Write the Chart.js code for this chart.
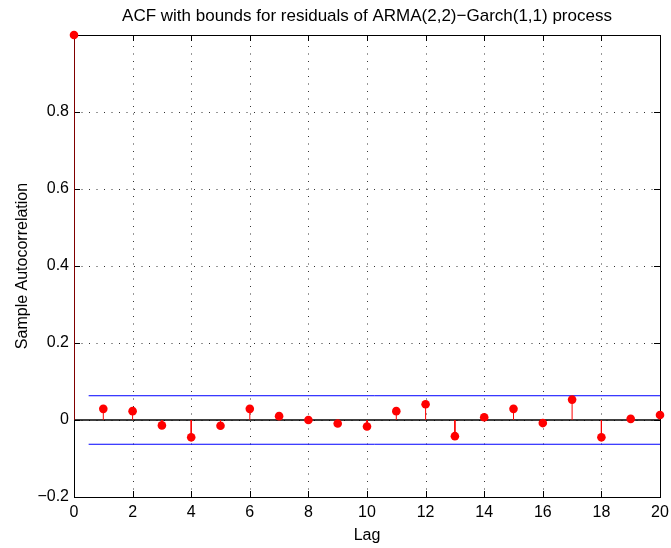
<!DOCTYPE html>
<html><head><meta charset="utf-8">
<script src="https://cdn.jsdelivr.net/npm/chart.js@4/dist/chart.umd.min.js"></script>
<style>html,body{margin:0;padding:0;background:#fff}#wrap{width:671px;height:548px}</style>
</head><body><div id="wrap"><canvas id="c" width="671" height="548"></canvas></div>
<script>
// ---- data ----
const lags = [0,1,2,3,4,5,6,7,8,9,10,11,12,13,14,15,16,17,18,19,20];
const acfValues = [1, 0.029, 0.023, -0.014, -0.045, -0.015, 0.029, 0.010, 0.000, -0.009, -0.017,
                   0.023, 0.041, -0.042, 0.007, 0.029, -0.008, 0.053, -0.045, 0.003, 0.013];
const boundValue = 0.063;
const boundLags = [0.5, 20];
const xTicks = [0,2,4,6,8,10,12,14,16,18,20];
const xTickLabels = ['0','2','4','6','8','10','12','14','16','18','20'];
const yTicks = [-0.2,0,0.2,0.4,0.6,0.8,1];
const yTickLabels = ['\u22120.2','0','0.2','0.4','0.6','0.8',''];
const titleText = 'ACF with bounds for residuals of ARMA(2,2)\u2212Garch(1,1) process';
const xLabel = 'Lag';
const yLabel = 'Sample Autocorrelation';

const FONT = 'Liberation Sans';

const stemData = [];
lags.forEach((l,i)=>{ stemData.push({x:l,y:0},{x:l,y:acfValues[i]},{x:l,y:null}); });
const markerData = lags.map((l,i)=>({x:l,y:acfValues[i]}));
const zeroData = [{x:xTicks[0],y:0},{x:xTicks[xTicks.length-1],y:0}];
const upperData = boundLags.map(l=>({x:l,y:boundValue}));
const lowerData = boundLags.map(l=>({x:l,y:-boundValue}));

const matlabAxes = {
  id:'matlabAxes',
  beforeDatasetsDraw(chart){
    const {ctx, chartArea:a, scales:{x,y}} = chart;
    ctx.save();
    ctx.lineWidth = 1;
    ctx.strokeStyle = '#333';
    ctx.setLineDash([1,6.5]);
    xTicks.slice(1,-1).forEach(v=>{
      const px = Math.round(x.getPixelForValue(v))+0.5;
      ctx.beginPath(); ctx.moveTo(px,a.bottom); ctx.lineTo(px,a.top); ctx.stroke();
    });
    yTicks.slice(1,-1).forEach(v=>{
      const py = Math.round(y.getPixelForValue(v))+0.5;
      ctx.beginPath(); ctx.moveTo(a.left,py); ctx.lineTo(a.right,py); ctx.stroke();
    });
    ctx.setLineDash([]);
    ctx.strokeStyle = '#000';
    const tl = 6;
    xTicks.forEach(v=>{
      const px = Math.round(x.getPixelForValue(v))+0.5;
      ctx.beginPath(); ctx.moveTo(px,a.bottom); ctx.lineTo(px,a.bottom-tl);
      ctx.moveTo(px,a.top); ctx.lineTo(px,a.top+tl); ctx.stroke();
    });
    yTicks.forEach(v=>{
      const py = Math.round(y.getPixelForValue(v))+0.5;
      ctx.beginPath(); ctx.moveTo(a.left,py); ctx.lineTo(a.left+tl,py);
      ctx.moveTo(a.right,py); ctx.lineTo(a.right-tl,py); ctx.stroke();
    });
    ctx.strokeRect(Math.round(a.left)+0.5, Math.round(a.top)+0.5, Math.round(a.right-a.left), Math.round(a.bottom-a.top));
    ctx.restore();
  },
  afterDraw(chart){
    const {ctx, chartArea:a} = chart;
    ctx.save();
    ctx.fillStyle = '#000';
    ctx.font = '17px "' + FONT + '"';
    ctx.textAlign = 'center';
    ctx.textBaseline = 'middle';
    ctx.fillText(titleText, (a.left+a.right)/2, 16);
    ctx.restore();
  }
};

new Chart(document.getElementById('c'), {
  type:'scatter',
  data:{datasets:[
    {label:'acf', data:markerData, showLine:false, pointRadius:4.3, pointHoverRadius:4.3,
     pointBackgroundColor:'#ff0000', pointBorderColor:'#ff0000', pointBorderWidth:0, clip:false},
    {label:'stems', data:stemData, showLine:true, spanGaps:false, pointRadius:0, borderColor:'#ff0000', borderWidth:1},
    {label:'upper', data:upperData, showLine:true, pointRadius:0, borderColor:'#0000ff', borderWidth:1},
    {label:'lower', data:lowerData, showLine:true, pointRadius:0, borderColor:'#0000ff', borderWidth:1},
    {label:'zero', data:zeroData, showLine:true, pointRadius:0, borderColor:'#000000', borderWidth:1.7}
  ]},
  options:{
    responsive:false, animation:false, devicePixelRatio:1,
    layout:{padding:{top:35,right:11,left:0,bottom:0}},
    plugins:{legend:{display:false}, tooltip:{enabled:false}, title:{display:false}},
    events:[],
    scales:{
      x:{type:'linear', min:0, max:20,
        afterBuildTicks:s=>{s.ticks = xTicks.map(v=>({value:v}));},
        afterFit:s=>{s.height = 51;},
        ticks:{autoSkip:false, maxRotation:0, padding:0, color:'#000', font:{family:FONT,size:16},
          callback:(v,i)=>xTickLabels[i]},
        grid:{display:true, drawOnChartArea:false, drawTicks:true, tickLength:6, tickColor:'rgba(0,0,0,0)'},
        border:{display:false},
        title:{display:true, text:xLabel, color:'#000', font:{family:FONT,size:16}, padding:{top:0,bottom:3}}
      },
      y:{type:'linear', min:-0.2, max:1,
        afterBuildTicks:s=>{s.ticks = yTicks.map(v=>({value:v}));},
        afterFit:s=>{s.width = 74;},
        ticks:{autoSkip:false, padding:5, color:'#000', font:{family:FONT,size:16},
          callback:(v,i)=>yTickLabels[i]},
        grid:{display:false, drawTicks:false}, border:{display:false},
        title:{display:true, text:yLabel, color:'#000', font:{family:FONT,size:16}, padding:{top:13,bottom:0}}
      }
    }
  },
  plugins:[matlabAxes]
});
</script></body></html>
